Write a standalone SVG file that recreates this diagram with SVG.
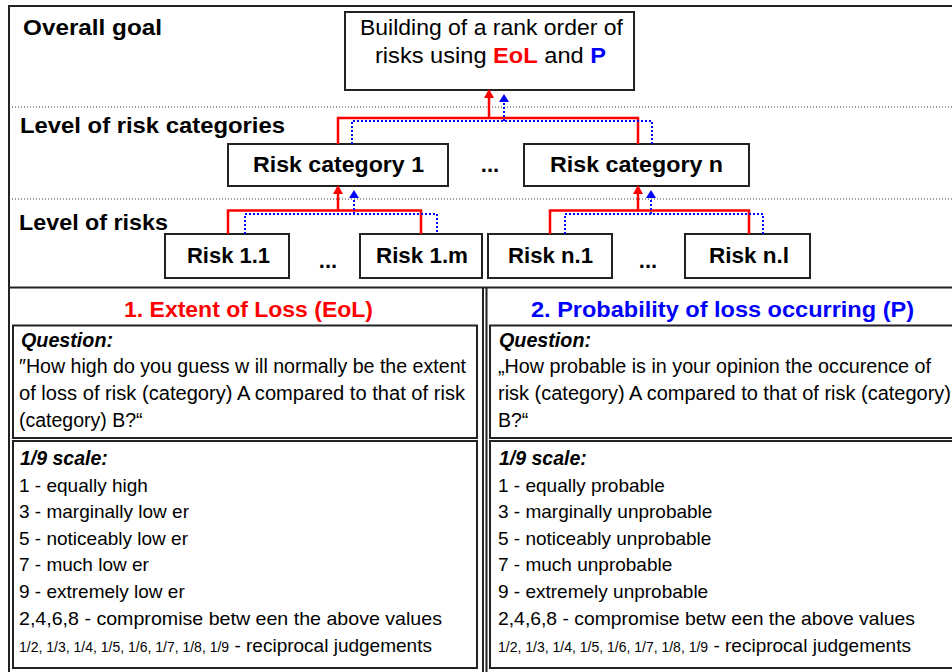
<svg xmlns="http://www.w3.org/2000/svg" width="952" height="672" viewBox="0 0 952 672">
<style>
text{font-family:"Liberation Sans",Arial,sans-serif;fill:#000}
.b{font-weight:bold}
.lvl{font-size:22px;font-weight:bold}
.node{fill:#fff;stroke:#222;stroke-width:2}
.nt{font-size:22px;font-weight:bold;text-anchor:middle}
.frame{fill:none;stroke:#222;stroke-width:2}
.sep{stroke:#333;stroke-width:1;stroke-dasharray:1,2;fill:none}
.red{fill:none;stroke:#f00;stroke-width:2.5}
.blue{fill:none;stroke:#00f;stroke-width:2;stroke-dasharray:2,2}
.q{font-size:19.5px}
.s{font-size:19px}
.qh{font-size:19.5px;font-weight:bold;font-style:italic}
.frac{font-size:14px}
.hd{font-size:22px;font-weight:bold}
</style>
<rect width="952" height="672" fill="#fff"/>

<g id="frames">
<path class="frame" d="M9,672 V6 H952"/>
<line class="frame" x1="9" y1="287.5" x2="952" y2="287.5"/>
<line class="frame" x1="483" y1="288" x2="483" y2="672"/>
<line class="frame" x1="486.5" y1="288" x2="486.5" y2="672"/>
<line class="sep" x1="9" y1="107" x2="952" y2="107"/>
<line class="sep" x1="9" y1="199" x2="952" y2="199"/>
</g>

<g id="level-labels">
<text class="lvl" x="23" y="35" textLength="139" lengthAdjust="spacingAndGlyphs">Overall goal</text>
<text class="lvl" x="20" y="133" textLength="265" lengthAdjust="spacingAndGlyphs">Level of risk categories</text>
<text class="lvl" x="19" y="230" textLength="149" lengthAdjust="spacingAndGlyphs">Level of risks</text>
</g>

<g id="goal">
<rect class="node" x="345" y="12" width="289" height="78"/>
<text x="360" y="35" font-size="22" textLength="263" lengthAdjust="spacingAndGlyphs">Building of a rank order of</text>
<text x="375" y="63" font-size="22" textLength="231" lengthAdjust="spacingAndGlyphs">risks using <tspan class="b" fill="#f00" style="fill:#f00">EoL</tspan> and <tspan class="b" style="fill:#00f">P</tspan></text>
</g>

<g id="cat1">
<rect class="node" x="228" y="144" width="220" height="42"/>
<text class="nt" x="338.5" y="172" textLength="171" lengthAdjust="spacingAndGlyphs">Risk category 1</text>
</g>
<g id="catdots"><text class="nt" x="490" y="172">...</text></g>
<g id="catn">
<rect class="node" x="524" y="144" width="225" height="42"/>
<text class="nt" x="636.5" y="172" textLength="173" lengthAdjust="spacingAndGlyphs">Risk category n</text>
</g>

<g id="r11">
<rect class="node" x="165" y="234" width="124" height="44"/>
<text class="nt" x="228.5" y="263" textLength="83" lengthAdjust="spacingAndGlyphs">Risk 1.1</text>
</g>
<g id="r1dots"><text class="nt" x="328" y="268">...</text></g>
<g id="r1m">
<rect class="node" x="360" y="234" width="122" height="44"/>
<text class="nt" x="422" y="263" textLength="92" lengthAdjust="spacingAndGlyphs">Risk 1.m</text>
</g>
<g id="rn1">
<rect class="node" x="488" y="234" width="124" height="44"/>
<text class="nt" x="550.5" y="263" textLength="85" lengthAdjust="spacingAndGlyphs">Risk n.1</text>
</g>
<g id="rndots"><text class="nt" x="648" y="268">...</text></g>
<g id="rnl">
<rect class="node" x="685" y="234" width="125" height="44"/>
<text class="nt" x="749" y="263" textLength="80" lengthAdjust="spacingAndGlyphs">Risk n.l</text>
</g>

<g id="connectors">
<path class="red" d="M338,144 V118 H638 V144"/>
<path class="red" d="M489,118 V97"/>
<path d="M484,98 L489,89 L494,98 Z" fill="#f00"/>
<path class="blue" d="M352,144 V121 H652 V144"/>
<path class="blue" d="M504,121 V101"/>
<path d="M499,102 L504,94 L509,102 Z" fill="#00f"/>

<path class="red" d="M228,234 V210.5 H421 V234"/>
<path class="red" d="M338,210.5 V193"/>
<path d="M333,194 L338,185 L343,194 Z" fill="#f00"/>
<path class="blue" d="M245,234 V214 H437 V234"/>
<path class="blue" d="M354,214 V197"/>
<path d="M349,198 L354,190 L359,198 Z" fill="#00f"/>

<path class="red" d="M550,234 V210.5 H749 V234"/>
<path class="red" d="M638,210.5 V193"/>
<path d="M633,194 L638,185 L643,194 Z" fill="#f00"/>
<path class="blue" d="M565,234 V214 H763 V234"/>
<path class="blue" d="M651,214 V197"/>
<path d="M646,198 L651,190 L656,198 Z" fill="#00f"/>
</g>

<g id="eol">
<text class="hd" x="124" y="317" textLength="249" lengthAdjust="spacingAndGlyphs" style="fill:#f00">1. Extent of Loss (EoL)</text>
<rect class="frame" x="13" y="325.5" width="464" height="112.5"/>
<text class="qh" x="21" y="347" textLength="92" lengthAdjust="spacingAndGlyphs">Question:</text>
<text class="q" x="19" y="373" textLength="447" lengthAdjust="spacingAndGlyphs">″How  high do you guess w ill normally be the extent</text>
<text class="q" x="19" y="400" textLength="446" lengthAdjust="spacingAndGlyphs">of loss of risk (category) A compared to that of risk</text>
<text class="q" x="19" y="427">(category) B?“</text>
<rect class="frame" x="13" y="441" width="464" height="227"/>
<text class="qh" x="20" y="465">1/9 scale:</text>
<text class="s" x="19" y="492">1 - equally high</text>
<text class="s" x="19" y="518">3 - marginally low er</text>
<text class="s" x="19" y="545">5 - noticeably low er</text>
<text class="s" x="19" y="571">7 - much low er</text>
<text class="s" x="19" y="598">9 - extremely low er</text>
<text class="s" x="19" y="625" textLength="423" lengthAdjust="spacingAndGlyphs">2,4,6,8  - compromise betw een the above values</text>
<text class="s" x="19" y="652"><tspan class="frac">1/2, 1/3, 1/4, 1/5, 1/6, 1/7, 1/8, 1/9</tspan> - reciprocal judgements</text>
</g>

<g id="prob">
<text class="hd" x="531" y="317" textLength="383" lengthAdjust="spacingAndGlyphs" style="fill:#00f">2. Probability of loss occurring (P)</text>
<rect class="frame" x="490" y="325.5" width="470" height="112.5"/>
<text class="qh" x="499" y="347" textLength="92" lengthAdjust="spacingAndGlyphs">Question:</text>
<text class="q" x="498" y="373" textLength="433" lengthAdjust="spacingAndGlyphs">„How  probable is in your opinion the occurence of</text>
<text class="q" x="498" y="400" textLength="453" lengthAdjust="spacingAndGlyphs">risk (category) A compared to that of risk (category)</text>
<text class="q" x="498" y="427">B?“</text>
<rect class="frame" x="490" y="441" width="470" height="227"/>
<text class="qh" x="499" y="465">1/9 scale:</text>
<text class="s" x="498" y="492">1 - equally probable</text>
<text class="s" x="498" y="518">3 - marginally unprobable</text>
<text class="s" x="498" y="545">5 - noticeably unprobable</text>
<text class="s" x="498" y="571">7 - much unprobable</text>
<text class="s" x="498" y="598">9 - extremely unprobable</text>
<text class="s" x="498" y="625" textLength="417" lengthAdjust="spacingAndGlyphs">2,4,6,8 - compromise betw een the above values</text>
<text class="s" x="498" y="652"><tspan class="frac">1/2, 1/3, 1/4, 1/5, 1/6, 1/7, 1/8, 1/9</tspan> - reciprocal judgements</text>
</g>
</svg>
